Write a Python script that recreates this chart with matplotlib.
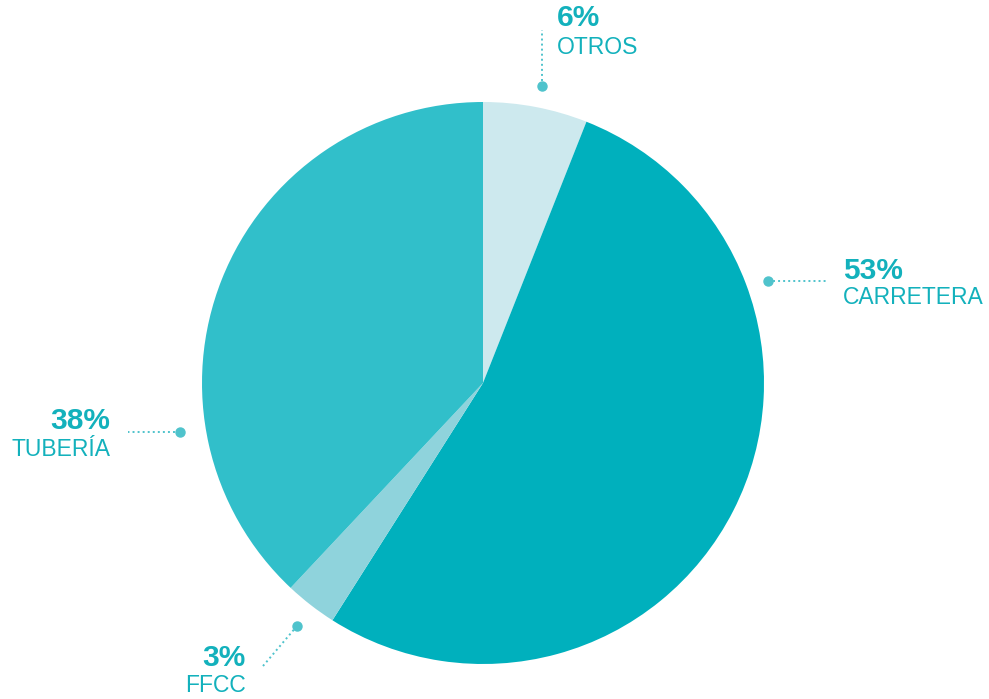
import matplotlib
matplotlib.use("Agg")
import matplotlib.pyplot as plt

# share by transport mode, clockwise from 12 o'clock
labels = ["OTROS", "CARRETERA", "FFCC", "TUBERÍA"]
values = [6, 53, 3, 38]
colors = ["#cde9ee", "#00b0bd", "#8fd3dc", "#31bfca"]

TEXT = "#13b1bc"
DOT = "#4fc3cc"

W, H = 989, 699
fig = plt.figure(figsize=(W / 100, H / 100), dpi=100)
ax = fig.add_axes([0, 0, 1, 1])

cx, cy, r = 483, H - 383, 281
ax.pie(values, colors=colors, startangle=90, counterclock=False,
       center=(cx, cy), radius=r, frame=True,
       wedgeprops=dict(linewidth=0))
ax.set_xlim(0, W)
ax.set_ylim(0, H)
ax.set_aspect("equal")
ax.axis("off")

plt.rcParams["font.family"] = ["Liberation Sans", "DejaVu Sans"]

# (dot, line end, text anchor x, pct y, name y, alignment) in pixel coords, y from top
callouts = [
    ((542, 86), (542, 30), 557, 18, 47, "left"),
    ((768, 281), (826, 281), 843, 271, 298, "left"),
    ((297, 626), (263, 666), 246, 658, 685, "right"),
    ((180, 432), (128, 432), 110, 421, 449, "right"),
]

for (lab, v), (dot, end, tx, py, ny, ha) in zip(zip(labels, values), callouts):
    ax.plot([dot[0], end[0]], [H - dot[1], H - end[1]], color=DOT,
            linestyle=(0, (1, 1.6)), linewidth=1.4)
    ax.plot(dot[0], H - dot[1], "o", color=DOT, markersize=6.5)
    ax.text(tx, H - py, f"{v}%", color=TEXT, fontsize=21.5, fontweight="bold",
            ha=ha, va="center")
    ax.text(tx, H - ny, lab, color=TEXT, fontsize=16.5, ha=ha, va="center")

fig.savefig("out.png", dpi=100)
